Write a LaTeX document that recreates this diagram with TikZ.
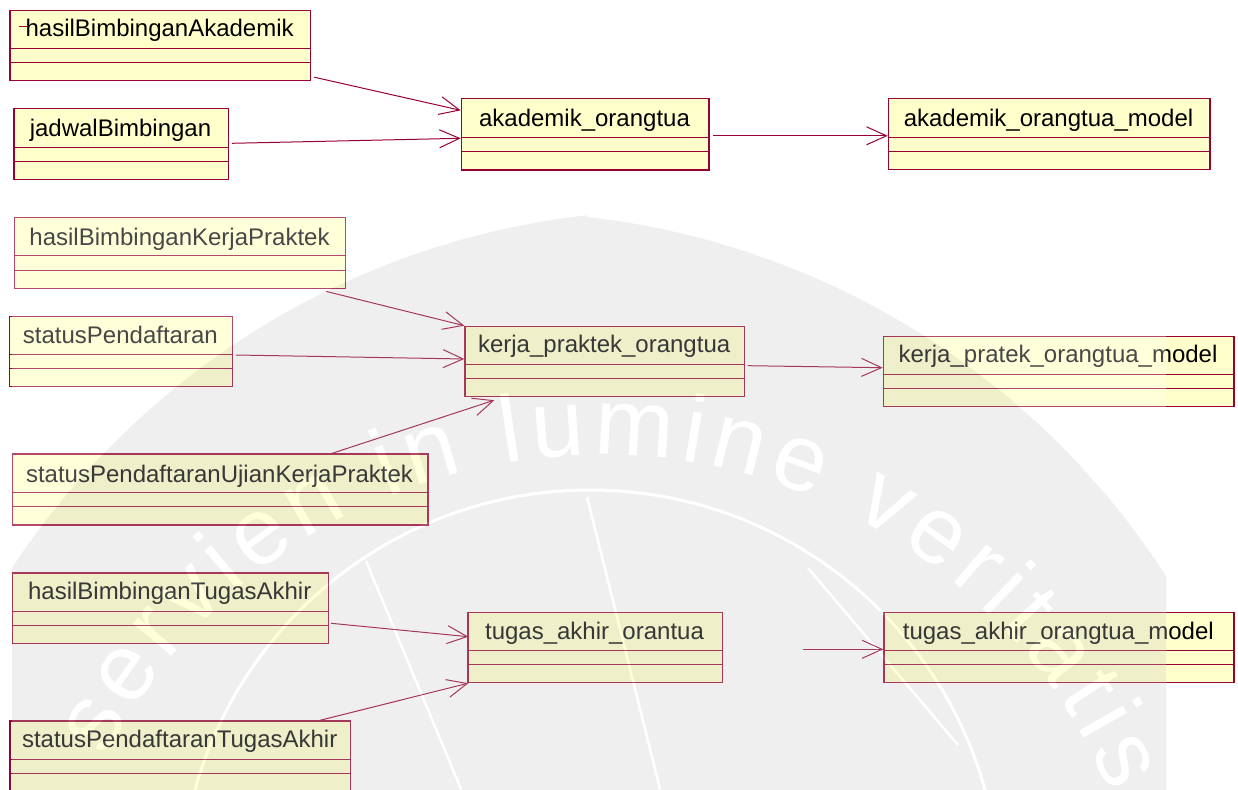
\documentclass[tikz,border=0pt]{standalone}
\usepackage{fontspec}
\setmainfont{Liberation Sans}
\usetikzlibrary{arrows.meta,calc,decorations.text}
\definecolor{rose}{RGB}{153,0,51}
\definecolor{roseyellow}{RGB}{255,255,204}
\definecolor{wmgray}{RGB}{198,198,198}
\newcommand{\umlbox}[9]{%
  \node[cls, anchor=north west, minimum width={#4-#2}, minimum height={#5-#3}] (#1) at (#2,#3) {};
  \draw[sep] (#2,#6) -- (#4,#6) (#2,#7) -- (#4,#7);
  \node[lbl] (#1-t) at ({(#2+#4)/2},#9) {#8};
}
\begin{document}
\begin{tikzpicture}[x=1pt,y=-1pt,
  cls/.style={draw=rose, fill=roseyellow, line width=1.2pt, inner sep=0pt},
  sep/.style={draw=rose, line width=1pt},
  lbl/.style={anchor=base, inner sep=0pt, text=black, font=\fontsize{24}{24}\selectfont},
  assoc/.style={draw=rose, line width=1pt, -{Straight Barb[length=20pt,width=18pt,line width=1pt]}}]
\useasboundingbox (0,0) rectangle (1238,789);
\clip (0,0) rectangle (1238,789);
\fill[white] (0,0) rectangle (1238,789);

% ---- classes ----
\umlbox{n1}{9.3}{10}{310}{80}{48.3}{62.3}{hasilBimbinganAkademik}{37}
\draw[rose, line width=1pt] (19,27) -- (27,27);
\umlbox{n2}{13.3}{108.3}{227.7}{179}{147}{161.3}{jadwalBimbingan}{136.7}
\umlbox{n3}{460.7}{98.3}{708.3}{169.3}{137.3}{151.3}{akademik\_orangtua}{126}
\umlbox{n4}{887.7}{98.3}{1209.3}{169}{137.3}{151.3}{akademik\_orangtua\_model}{126}

\umlbox{n5}{14}{216.7}{345}{287.7}{255.7}{270.3}{hasilBimbinganKerjaPraktek}{245}
\umlbox{n6}{9}{315.7}{231.7}{386}{354.3}{368.3}{statusPendaftaran}{343.3}
\umlbox{n7}{464.3}{325.7}{744}{396}{364.3}{378.3}{kerja\_praktek\_orangtua}{352}
\umlbox{n8}{882.7}{335.7}{1233.3}{405.7}{374.3}{388.3}{kerja\_pratek\_orangtua\_model}{362.3}
\umlbox{n9}{11.7}{453.3}{427.3}{524.3}{492.3}{506.7}{statusPendaftaranUjianKerjaPraktek}{482.3}

\umlbox{n10}{11.7}{572.3}{327.7}{642.7}{611}{625.3}{hasilBimbinganTugasAkhir}{599.3}
\umlbox{n11}{9.3}{720.3}{350}{800}{759.3}{773.3}{statusPendaftaranTugasAkhir}{747.7}
\umlbox{n12}{467.3}{611.7}{721.7}{682}{650.7}{664.3}{tugas\_akhir\_orantua}{639.3}
\umlbox{n13}{883.3}{611.7}{1233.3}{681.7}{650}{664.3}{tugas\_akhir\_orangtua\_model}{639.3}

% ---- associations ----
\draw[assoc] ($(n1.south east)+(3,-4)$) -- ($(n3.north west)+(0,12)$);
\draw[assoc] ($(n2.north east)+(3,35)$) -- ($(n3.north west)+(0,40)$);
\draw[assoc] ($(n3.north east)+(3.5,37.5)$) -- ($(n4.north west)+(0,37.5)$);

\draw[assoc] ($(n5.south east)+(-20,2.5)$) -- (n7.north west);
\draw[assoc] ($(n6.north east)+(3.3,39.3)$) -- ($(n7.north west)+(0,33.3)$);
\draw[assoc] ($(n9.north west)+(318.3,0.7)$) -- ($(n7.south west)+(30,3)$);
\draw[assoc] ($(n7.north east)+(2.7,40)$) -- ($(n8.north west)+(0,32)$);

\draw[assoc] ($(n10.north east)+(2.3,51)$) -- ($(n12.north west)+(1,25)$);
\draw[assoc] ($(n11.north west)+(310.7,0)$) -- ($(n12.south west)+(1,0)$);
\coordinate (tailm) at (803.3,649.3);
\draw[assoc] (tailm) -- ($(n13.north west)+(0,37.6)$);

% ---- watermark overlay ----
\begin{scope}[transparency group, opacity=0.28]
  \clip (12,200) rectangle (1166,789);
  \fill[white] (12,200) rectangle (1166,789);
  \fill[wmgray] (587,217) arc[start angle=-83.56, end angle=-5, radius=795]
       -- (-116,936) arc[start angle=185, end angle=263.56, radius=795] -- cycle;
  \draw[white, line width=3pt] (590,900) circle[radius=410];
  \draw[white, line width=2.5pt] (587,497) -- (660,789);
  \draw[white, line width=2.5pt] (366,561) -- (461,789);
  \draw[white, line width=2.5pt] (808,568) -- (958,745);
  \path[decorate, decoration={text along path,
        text={|\fontsize{95}{95}\selectfont\color{white}|servien in lumine veritatis},
        text align=fit to path}]
     (600,1010) ++(207:555) arc[start angle=207, end angle=337, radius=555];
\end{scope}
\end{tikzpicture}
\end{document}
